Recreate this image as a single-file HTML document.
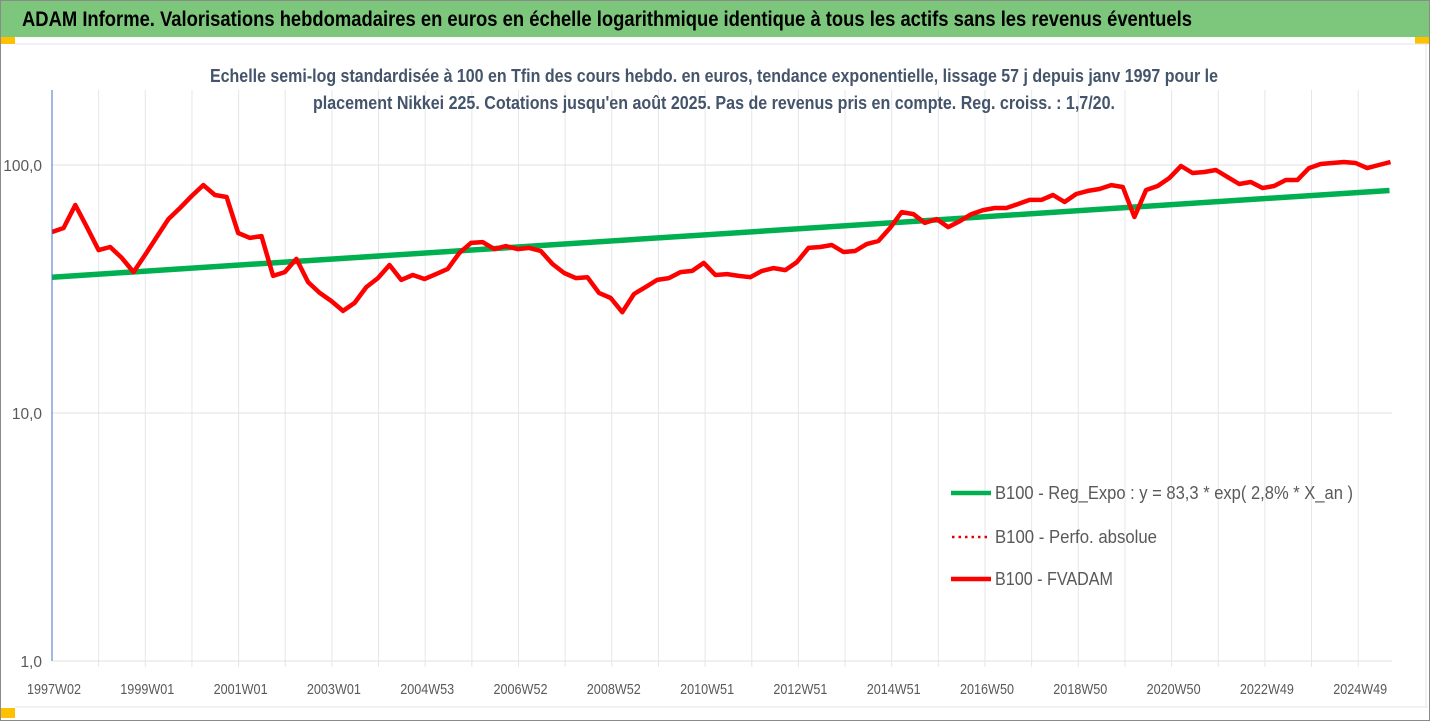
<!DOCTYPE html>
<html><head><meta charset="utf-8">
<style>
html,body{margin:0;padding:0;background:#fff;}
body{width:1431px;height:721px;overflow:hidden;position:relative;font-family:"Liberation Sans",sans-serif;}
svg{position:absolute;left:0;top:0;}
</style></head>
<body>
<svg id="chart" width="1431" height="721" viewBox="0 0 1431 721" xmlns="http://www.w3.org/2000/svg">
  <rect x="0.5" y="0.5" width="1429" height="720" fill="#fff" stroke="#8a8a8a"/>
  <rect x="1" y="1" width="1428" height="36" fill="#7dc77d"/>
  <text x="22" y="26" font-size="21" font-weight="bold" fill="#000" textLength="1170" lengthAdjust="spacingAndGlyphs">ADAM Informe. Valorisations hebdomadaires en euros en échelle logarithmique identique à tous les actifs sans les revenus éventuels</text>
  <rect x="1" y="37" width="14" height="7" fill="#ffc000"/>
  <rect x="1415" y="37" width="14" height="7" fill="#ffc000"/>
  <rect x="1" y="708" width="14" height="10" fill="#ffc000"/>
  <line x1="15" y1="44" x2="1428" y2="44" stroke="#e6e6e6"/>
  <line x1="15" y1="707" x2="1428" y2="707" stroke="#e6e6e6"/>
  <line x1="1426" y1="44" x2="1426" y2="707" stroke="#e6e6e6"/>
  <g id="grid"></g>
  <text x="714" y="82" text-anchor="middle" font-size="18" font-weight="bold" fill="#44546a" textLength="1008" lengthAdjust="spacingAndGlyphs">Echelle semi-log standardisée à 100 en Tfin des cours hebdo. en euros, tendance exponentielle, lissage 57 j depuis janv 1997 pour le</text>
  <text x="714" y="109" text-anchor="middle" font-size="18" font-weight="bold" fill="#44546a" textLength="802" lengthAdjust="spacingAndGlyphs">placement Nikkei 225. Cotations jusqu'en août 2025. Pas de revenus pris en compte. Reg. croiss. : 1,7/20.</text>
  <g id="series"></g>
  <g id="axes"></g>
  <g id="legend">
    <line x1="951" y1="493" x2="991" y2="493" stroke="#00b050" stroke-width="4.5"/>
    <text x="995" y="499" font-size="18" fill="#595959" textLength="358" lengthAdjust="spacingAndGlyphs">B100 - Reg_Expo : y = 83,3 * exp( 2,8% *  X_an )</text>
    <line x1="952" y1="537" x2="991" y2="537" stroke="#e00000" stroke-width="2.5" stroke-dasharray="2.5,4"/>
    <text x="995" y="543" font-size="18" fill="#595959" textLength="162" lengthAdjust="spacingAndGlyphs">B100 - Perfo. absolue</text>
    <line x1="951" y1="579" x2="991" y2="579" stroke="#ff0000" stroke-width="4.5"/>
    <text x="995" y="585" font-size="18" fill="#595959" textLength="118" lengthAdjust="spacingAndGlyphs">B100 - FVADAM</text>
  </g>
</svg>
<script>
// ---- data ----
const xTickLabels = ["1997W02","1999W01","2001W01","2003W01","2004W53","2006W52","2008W52","2010W51","2012W51","2014W51","2016W50","2018W50","2020W50","2022W49","2024W49"];
const yTickValues = [1, 10, 100];
const yTickLabels = ["1,0","10,0","100,0"];
const startYear = 1997.03;
const stepYears = 0.2495;
const fvadamValues = [53.7,55.7,69.0,56.2,45.4,46.7,42.2,37.0,43.4,51.3,60.5,67.1,75.0,83.0,75.7,74.3,53.2,50.8,51.7,35.7,37.0,41.8,33.7,30.5,28.3,25.8,27.8,32.2,35.0,39.5,34.4,36.0,34.7,36.3,38.1,44.2,48.5,48.9,45.8,47.1,45.8,46.3,45.0,39.9,36.7,35.0,35.3,30.5,29.1,25.5,30.2,32.2,34.4,35.0,37.0,37.4,40.3,36.0,36.3,35.7,35.3,37.4,38.4,37.7,40.6,46.3,46.7,47.6,44.6,45.0,48.0,49.4,55.7,64.6,63.4,58.4,60.5,56.2,59.4,63.4,65.8,67.1,67.1,69.6,72.3,72.3,75.7,70.9,76.4,78.6,80.0,83.0,81.5,61.7,79.3,82.3,88.6,99.1,92.8,93.7,95.5,89.4,83.8,85.4,80.8,82.3,87.0,87.0,97.2,100.9,101.9,102.8,101.9,97.2,100.0,102.8];
const trendYears = [1997.03, 2025.7];
const trendValues = [35.3, 78.9];

// ---- axes functions ----
const X0 = 52, PX_PER_YEAR = 46.65;
const Y_TOP_VAL = 100, Y_AT_100 = 165, PX_PER_DECADE = 248;
function xScale(t){ return X0 + (t - startYear) * PX_PER_YEAR; }
function yScale(v){ return Y_AT_100 + (Math.log10(Y_TOP_VAL) - Math.log10(v)) * PX_PER_DECADE; }

const NS = "http://www.w3.org/2000/svg";
function mk(tag, attrs, parent){
  const el = document.createElementNS(NS, tag);
  for (const k in attrs) el.setAttribute(k, attrs[k]);
  parent.appendChild(el);
  return el;
}
const grid = document.getElementById('grid');
const axes = document.getElementById('axes');
const series = document.getElementById('series');

for (let k = 1; k <= 29; k++) {
  const x = X0 + k * PX_PER_YEAR;
  if (x > 1395) break;
  const g = mk('line', {x1:x, y1:90, x2:x, y2:667, stroke:'#e3e6ec', 'stroke-width':1}, grid);
  
  
}
yTickValues.forEach((v, i) => {
  const y = yScale(v);
  const g = mk('line', {x1:X0, y1:y, x2:1392, y2:y, stroke:'#e6e6e6', 'stroke-width':1.3}, grid);
  
  
  const t = mk('text', {x:42, y:y+6, 'text-anchor':'end', 'font-size':15.5, fill:'#595959'}, axes);
  
  
  t.textContent = yTickLabels[i];
});
const yAxis = mk('line', {x1:X0, y1:90, x2:X0, y2:661, stroke:'#4472c4', 'stroke-width':1}, axes);


xTickLabels.forEach((lab, i) => {
  const x = X0 + 2 + i * 2 * PX_PER_YEAR;
  const t = mk('text', {x:x, y:694, 'text-anchor':'middle', 'font-size':15, fill:'#595959', textLength:54, lengthAdjust:'spacingAndGlyphs'}, axes);
  
  
  t.textContent = lab;
});

let dT = trendYears.map((t, i) => (i ? 'L' : 'M') + xScale(t).toFixed(1) + ',' + yScale(trendValues[i]).toFixed(1)).join(' ');
const trend = mk('path', {d:dT, fill:'none', stroke:'#00b050', 'stroke-width':5.5}, series);



let dF = fvadamValues.map((v, i) => (i ? 'L' : 'M') + xScale(startYear + i * stepYears).toFixed(1) + ',' + yScale(v).toFixed(1)).join(' ');
const fv = mk('path', {d:dF, fill:'none', stroke:'#ff0000', 'stroke-width':4.5, 'stroke-linejoin':'round'}, series);


</script>
</body></html>
